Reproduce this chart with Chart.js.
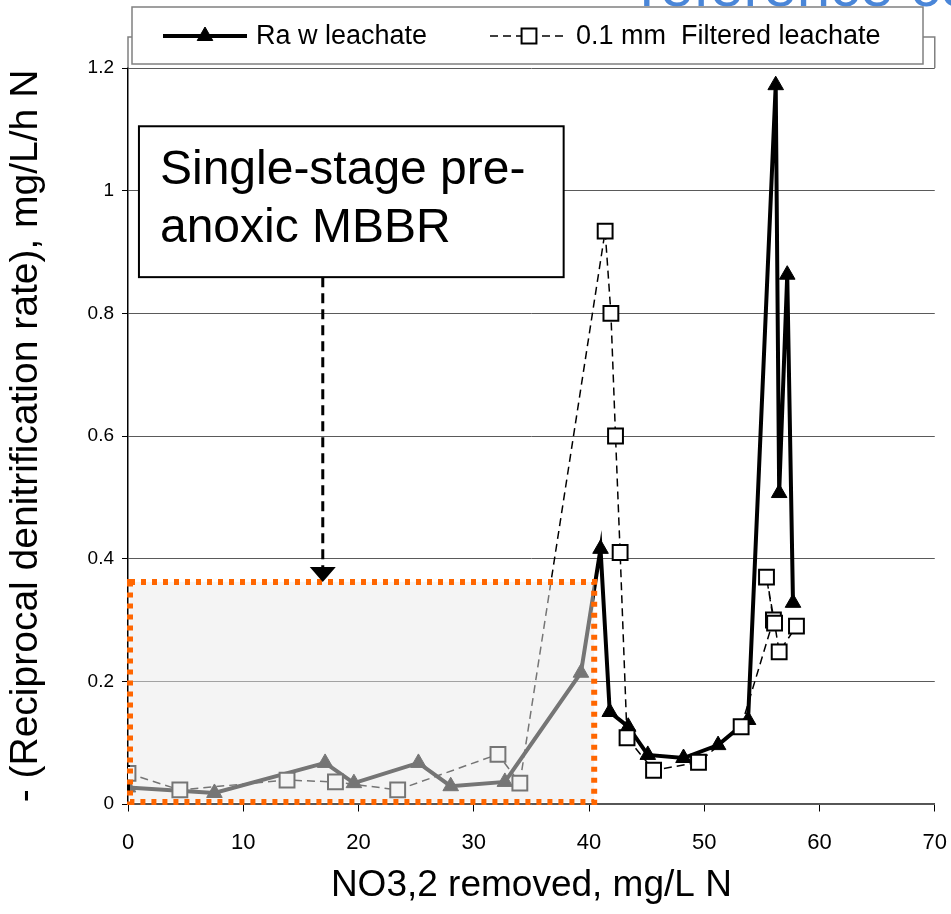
<!DOCTYPE html>
<html>
<head>
<meta charset="utf-8">
<script src="https://cdn.jsdelivr.net/npm/chart.js@4.4.1/dist/chart.umd.min.js"></script>
<style>
  html, body { margin: 0; padding: 0; background: #fff; }
  #wrap { width: 951px; height: 914px; position: relative; }
</style>
</head>
<body>
<div id="wrap"><canvas id="chart"></canvas></div>
<script>
// values
const rawX = [0, 7.5, 17.1, 19.6, 25.2, 28.0, 32.7, 39.3, 41.0, 41.8, 43.4, 45.1, 48.2, 51.2, 53.8, 56.2, 56.5, 57.2, 57.7];
const rawY = [0.027, 0.018, 0.067, 0.034, 0.067, 0.029, 0.036, 0.214, 0.416, 0.150, 0.126, 0.080, 0.075, 0.096, 0.137, 1.172, 0.507, 0.863, 0.328];

const filtX = [0, 4.5, 13.8, 18.0, 23.4, 32.1, 34.0, 41.4, 41.9, 42.3, 42.7, 43.3, 45.6, 49.5, 53.2, 56.0, 55.4, 56.1, 56.5, 58.0];
const filtY = [0.050, 0.023, 0.039, 0.036, 0.023, 0.081, 0.034, 0.934, 0.800, 0.600, 0.410, 0.108, 0.055, 0.068, 0.126, 0.300, 0.370, 0.295, 0.248, 0.290];

const seriesNames = ['Ra w leachate', '0.1 mm  Filtered leachate'];
const xTicks = [0, 10, 20, 30, 40, 50, 60, 70];
const yTicks = [0, 0.2, 0.4, 0.6, 0.8, 1, 1.2];

const annotationText = ['Single-stage pre-', 'anoxic MBBR'];

const FONT = '"Liberation Sans", Arial, sans-serif';
Chart.defaults.font.family = FONT;
Chart.defaults.color = '#000';

const toPoints = (xs, ys) => xs.map((x, i) => ({ x: x, y: ys[i] }));

// extra drawing: shaded region, callout, legend box, frame
const decor = {
    id: 'decor',
    beforeDatasetsDraw(chart) {
        const ctx = chart.ctx;
        const a = chart.chartArea;
        ctx.save();
        ctx.strokeStyle = '#808080';
        ctx.lineWidth = 1.5;
        ctx.beginPath();
        ctx.moveTo(a.left, a.top);
        ctx.lineTo(a.left, 37);
        ctx.lineTo(a.right, 37);
        ctx.lineTo(a.right, a.top);
        ctx.stroke();
        ctx.restore();
    },
    afterDatasetsDraw(chart) {
        const ctx = chart.ctx;
        const xs = chart.scales.x, ys = chart.scales.y;
        ctx.save();

        // light grey region with orange dotted outline
        const l = xs.getPixelForValue(0) + 2, r = xs.getPixelForValue(40.45);
        const t = ys.getPixelForValue(0.362), b = ys.getPixelForValue(0) - 2;
        ctx.fillStyle = 'rgba(233,233,233,0.5)';
        ctx.fillRect(l, t, r - l, b - t);
        ctx.strokeStyle = '#ff6600';
        ctx.lineWidth = 6;
        ctx.setLineDash([5, 6]);
        ctx.strokeRect(l, t, r - l, b - t);
        ctx.setLineDash([]);

        // callout box
        const bl = xs.getPixelForValue(0.95), br = xs.getPixelForValue(37.8);
        const bt = ys.getPixelForValue(1.105), bb = ys.getPixelForValue(0.859);
        ctx.fillStyle = '#fff';
        ctx.fillRect(bl, bt, br - bl, bb - bt);
        ctx.strokeStyle = '#000';
        ctx.lineWidth = 2;
        ctx.strokeRect(bl, bt, br - bl, bb - bt);
        ctx.fillStyle = '#000';
        ctx.font = '48px ' + FONT;
        ctx.textBaseline = 'alphabetic';
        ctx.fillText(annotationText[0], bl + 21, bt + 58);
        ctx.fillText(annotationText[1], bl + 21, bt + 116);

        // dashed arrow down to the region
        const ax = xs.getPixelForValue(16.9);
        ctx.lineWidth = 3;
        ctx.setLineDash([10, 6]);
        ctx.beginPath();
        ctx.moveTo(ax, bb);
        ctx.lineTo(ax, t - 14);
        ctx.stroke();
        ctx.setLineDash([]);
        ctx.beginPath();
        ctx.moveTo(ax - 13, t - 15);
        ctx.lineTo(ax + 13, t - 15);
        ctx.lineTo(ax, t);
        ctx.closePath();
        ctx.fill();
        ctx.restore();
    },
    afterDraw(chart) {
        const ctx = chart.ctx;
        ctx.save();
        // cut-off slide heading behind the chart
        ctx.fillStyle = '#4a86d8';
        ctx.font = '60px ' + FONT;
        ctx.textBaseline = 'alphabetic';
        ctx.fillText('reference co', 640, 6);

        // legend
        ctx.fillStyle = '#fff';
        ctx.fillRect(132, 7, 791, 57);
        ctx.strokeStyle = '#808080';
        ctx.lineWidth = 1.5;
        ctx.strokeRect(132, 7, 791, 57);

        const items = [{ x0: 163, x1: 247, tx: 256 }, { x0: 490, x1: 568, tx: 576 }];
        const cy = 36;
        chart.data.datasets.forEach((ds, i) => {
            const it = items[i];
            ctx.strokeStyle = ds.borderColor;
            ctx.lineWidth = ds.borderWidth;
            ctx.setLineDash(ds.borderDash || []);
            ctx.beginPath();
            ctx.moveTo(it.x0, cy);
            ctx.lineTo(it.x1, cy);
            ctx.stroke();
            ctx.setLineDash([]);
            ctx.fillStyle = ds.pointBackgroundColor;
            ctx.strokeStyle = ds.pointBorderColor;
            ctx.lineWidth = ds.pointBorderWidth;
            Chart.helpers.drawPoint(ctx, {
                pointStyle: ds.pointStyle, radius: ds.pointRadius, rotation: 0, borderWidth: ds.pointBorderWidth
            }, (it.x0 + it.x1) / 2, cy);
            ctx.fillStyle = '#000';
            ctx.font = '27px ' + FONT;
            ctx.textBaseline = 'middle';
            ctx.fillText(ds.label, it.tx, cy + 1);
        });
        ctx.restore();
    }
};

const ctx = document.getElementById('chart').getContext('2d');
const chart = new Chart(ctx, {
    type: 'scatter',
    data: {
        datasets: [{
            label: seriesNames[0],
            data: toPoints(rawX, rawY),
            showLine: true,
            borderColor: '#000',
            borderWidth: 4,
            pointStyle: 'triangle',
            pointRadius: 9,
            pointBackgroundColor: '#000',
            pointBorderColor: '#000',
            pointBorderWidth: 1,
            order: 2
        }, {
            label: seriesNames[1],
            data: toPoints(filtX, filtY),
            showLine: true,
            borderColor: '#000',
            borderWidth: 1.5,
            borderDash: [8, 5],
            pointStyle: 'rect',
            pointRadius: 10.5,
            pointBackgroundColor: '#fff',
            pointBorderColor: '#000',
            pointBorderWidth: 2,
            order: 1
        }]
    },
    options: {
        responsive: true,
        maintainAspectRatio: false,
        animation: false,
        layout: { padding: { top: 68, right: 0, left: 0, bottom: 0 } },
        plugins: {
            legend: { display: false },
            tooltip: { enabled: false }
        },
        scales: {
            x: {
                type: 'linear',
                min: 0,
                max: 70,
                afterBuildTicks: s => { s.ticks = xTicks.map(v => ({ value: v })); },
                afterFit: s => { s.height = 110; },
                // long tick slot, only the first 7px drawn
                grid: { drawOnChartArea: false, drawTicks: true, tickLength: 22, tickBorderDash: [7, 100], color: '#000' },
                border: { color: '#555', width: 1.5 },
                ticks: { font: { size: 22 }, padding: 4, maxRotation: 0 },
                title: {
                    display: true,
                    text: 'NO3,2 removed, mg/L N',
                    font: { size: 37 },
                    padding: { top: 0, bottom: 6 }
                }
            },
            y: {
                type: 'linear',
                min: 0,
                max: 1.2,
                afterBuildTicks: s => { s.ticks = yTicks.map(v => ({ value: v })); },
                afterFit: s => { s.width = 128; },
                grid: { color: '#5a5a5a', lineWidth: 1, drawTicks: true, tickLength: 6, tickColor: '#000' },
                border: { color: '#000', width: 1.5 },
                ticks: {
                    font: { size: 19 },
                    padding: 8,
                    callback: v => String(+v.toFixed(1))
                },
                title: {
                    display: true,
                    text: '- (Reciprocal denitrification rate), mg/L/h N',
                    font: { size: 39 },
                    padding: { top: 3, bottom: 0 }
                }
            }
        }
    },
    plugins: [decor]
});
</script>
</body>
</html>
